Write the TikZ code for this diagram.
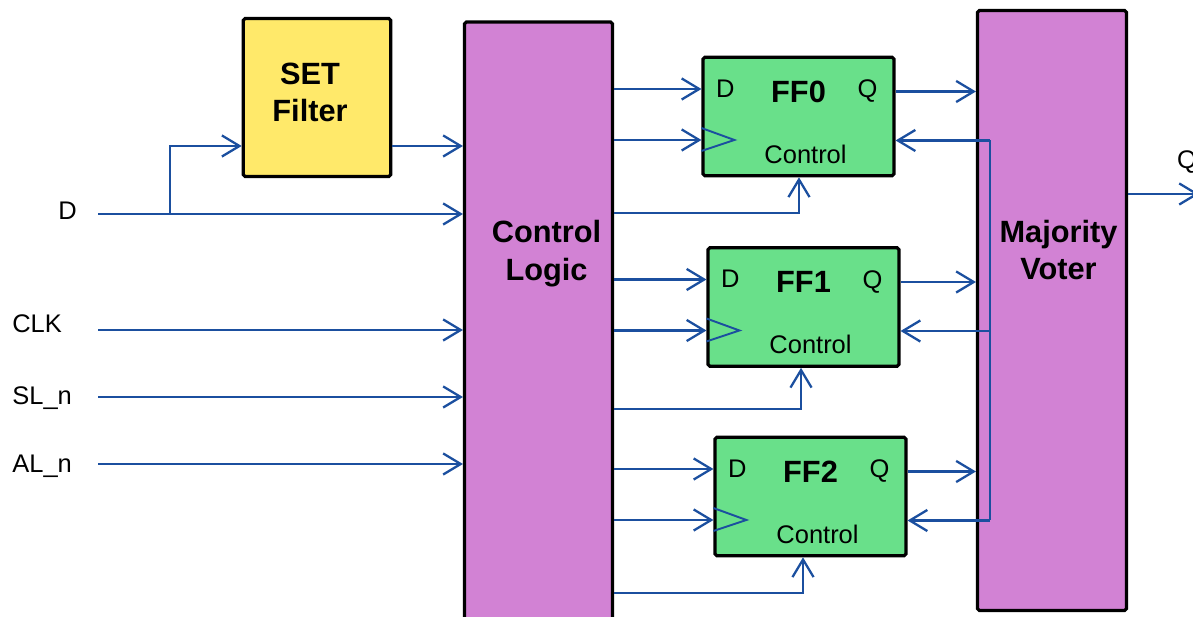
\documentclass[tikz,border=0pt]{standalone}
\usepackage{fontspec}
\setmainfont{Liberation Sans}
\usetikzlibrary{arrows.meta,calc,positioning}

\definecolor{wireblue}{HTML}{1B4F9F}
\definecolor{setfill}{HTML}{FFE96A}
\definecolor{logicfill}{HTML}{D282D4}
\definecolor{fffill}{HTML}{69E08A}

\tikzset{
  blk/.style={draw=black,line width=1.8pt,rounded corners=1pt,inner sep=0pt},
  ffbox/.style={blk,fill=fffill,minimum width=3.82cm,minimum height=2.37cm},
  title/.style={font=\bfseries\fontsize{17.5}{21.5}\selectfont,align=center,inner sep=0pt},
  fftitle/.style={font=\bfseries\fontsize{17.5}{21}\selectfont,inner sep=0pt},
  pin/.style={font=\fontsize{14.5}{17}\selectfont,inner sep=0pt},
  sig/.style={draw=wireblue,line width=1.3pt,-{Straight Barb[length=10pt,width=12pt]}},
  bus/.style={draw=wireblue,line width=0.9pt},
}

\begin{document}
\begin{tikzpicture}[x=0.02cm,y=-0.02cm,font=\fontsize{14.5}{17}\selectfont]
\useasboundingbox (0,0) rectangle (1193,617);

% main blocks
\node[blk,fill=setfill,minimum width=2.95cm,minimum height=3.16cm] (setf) at (317,97.5) {};
\node[title] (settxt) at (310,92.5) {SET\\Filter};
\node[blk,fill=logicfill,minimum width=2.96cm,minimum height=12.4cm] (cl) at (538.5,332) {};
\node[title] (cltxt) at (546.5,254) {Control\\Logic};
\node[blk,fill=logicfill,minimum width=2.98cm,minimum height=12cm] (mv) at (1052,310.5) {};
\node[title] (mvtxt) at (1058.5,250) {Majority\\Voter};

% inputs
\node[anchor=base west,inner sep=0pt] (lbld) at (58,220) {D};
\node[anchor=base west,inner sep=0pt] (lblclk) at (12,333) {CLK};
\node[anchor=base west,inner sep=0pt] (lblsl) at (12,405) {SL\_n};
\node[anchor=base west,inner sep=0pt] (lblal) at (12,473) {AL\_n};
\coordinate (ind) at (98,214);
\coordinate (tap) at (170,214);
\coordinate (setin) at (setf.west |- 0,146);
\draw[sig] (ind) -- (cl.west |- ind);
\draw[sig] (tap) |- (setin);
\draw[sig] (setf.east |- setin) -- (cl.west |- setin);
\foreach \n/\py in {clk/330,sl/397,al/464}{
  \coordinate (in\n) at (98,\py);
  \draw[sig] (in\n) -- (cl.west |- in\n);
}

% feedback bus inside the voter
\coordinate (fbus) at ($(mv.west)+(14,0)$);

% the three flip-flops
\foreach \i/\px/\py/\cx/\cy in {0/798.5/116.5/799/213, 1/803.5/307/801/409, 2/810.5/496.5/803/593}{
  \node[ffbox] (ff\i) at (\px,\py) {};
  \node[pin] (ffd\i) at ($(ff\i.west)+(24,-28)$) {D};
  \node[fftitle] (ffn\i) at ($(ff\i.center)+(0,-25)$) {FF\i};
  \node[pin] (ffq\i) at ($(ff\i.east)+(-28,-25)$) {Q};
  \node (ffc\i) at ($(ff\i.center)+(7,37.5)$) {Control};
  \coordinate (ffdin\i) at ($(ff\i.west)+(0,-27.5)$);
  \coordinate (ffclk\i) at ($(ff\i.west)+(0,23.5)$);
  \coordinate (ffout\i) at ($(ff\i.east)+(0,-25)$);
  \coordinate (ffbk\i) at ($(ff\i.east)+(0,24)$);
  \coordinate (ffctl\i) at (\cx,0 |- ff\i.south);
  % clock wedge
  \draw[wireblue,line width=1.1pt] ($(ffclk\i)+(0,-12)$) -- ($(ffclk\i)+(33,0)$) -- ($(ffclk\i)+(0,11)$);
  \draw[sig] (cl.east |- ffdin\i) -- (ffdin\i);
  \draw[sig] (cl.east |- ffclk\i) -- (ffclk\i);
  \draw[sig] (cl.east |- 0,\cy) -| (ffctl\i);
  \draw[sig] (ffout\i) -- (mv.west |- ffout\i);
  \draw[sig] (fbus |- ffbk\i) -- (ffbk\i);
}
\draw[bus] (fbus |- ffbk0) -- (fbus |- ffbk2);

% output
\coordinate (qout) at (1199,194);
\draw[sig] (mv.east |- qout) -- (qout);
\node (lblq) at (1187,162) {Q};
\end{tikzpicture}
\end{document}
